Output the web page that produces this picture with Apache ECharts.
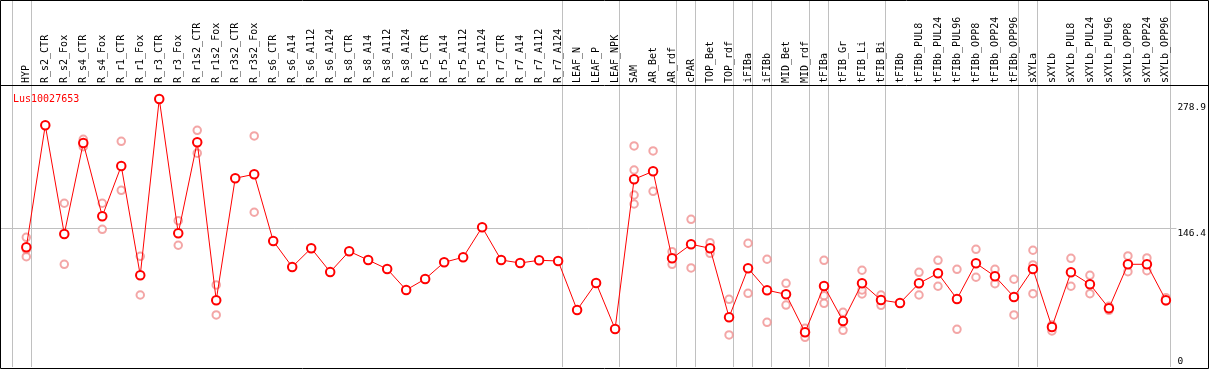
<!DOCTYPE html>
<html><head><meta charset="utf-8">
<script src="https://cdn.jsdelivr.net/npm/echarts@6/dist/echarts.min.js"></script>
<style>html,body{margin:0;padding:0;background:#fff}#c{width:1209px;height:370px}</style>
</head><body><div id="c"></div>
<script>
const seriesName = 'Lus10027653';
const categories = ['HYP','R_s2_CTR','R_s2_Fox','R_s4_CTR','R_s4_Fox','R_r1_CTR','R_r1_Fox','R_r3_CTR','R_r3_Fox','R_r1s2_CTR','R_r1s2_Fox','R_r3s2_CTR','R_r3s2_Fox','R_s6_CTR','R_s6_A14','R_s6_A112','R_s6_A124','R_s8_CTR','R_s8_A14','R_s8_A112','R_s8_A124','R_r5_CTR','R_r5_A14','R_r5_A112','R_r5_A124','R_r7_CTR','R_r7_A14','R_r7_A112','R_r7_A124','LEAF_N','LEAF_P','LEAF_NPK','SAM','AR_Bet','AR_rdf','cPAR','TOP_Bet','TOP_rdf','iFIBa','iFIBb','MID_Bet','MID_rdf','tFIBa','tFIB_Gr','tFIB_Li','tFIB_Bi','tFIBb','tFIBb_PUL8','tFIBb_PUL24','tFIBb_PUL96','tFIBb_OPP8','tFIBb_OPP24','tFIBb_OPP96','sXYLa','sXYLb','sXYLb_PUL8','sXYLb_PUL24','sXYLb_PUL96','sXYLb_OPP8','sXYLb_OPP24','sXYLb_OPP96'];
const means = [126.3,255.1,140.4,236.4,159.1,212.2,96.8,282.9,141.1,237.2,70.4,199.2,203.4,133.0,105.6,125.3,100.3,122.1,112.9,103.4,81.3,92.9,110.5,115.8,147.5,112.9,109.8,112.6,111.9,60.2,88.7,40.1,198.1,206.5,114.7,129.5,125.3,52.5,104.2,81.0,76.7,36.6,85.5,48.6,88.3,70.7,67.6,88.3,98.9,71.8,109.5,95.7,73.9,103.4,42.2,99.9,87.3,62.0,108.4,108.4,70.4];
const rep1 = [136.9,null,172.8,240.3,172.8,238.2,116.8,null,154.4,249.8,86.6,null,243.8,null,null,null,null,null,null,null,null,null,null,null,null,null,null,null,null,null,null,null,233.3,228.0,121.7,155.9,131.2,71.4,130.6,113.7,88.3,40.8,112.6,57.7,102.1,76.0,null,99.9,112.6,103.1,124.2,103.1,92.6,123.2,44.3,114.7,96.8,64.1,117.2,115.1,73.1];
const rep2 = [116.4,null,108.4,232.5,145.3,186.5,76.0,null,128.5,225.6,54.9,null,163.3,null,null,null,null,null,null,null,null,null,null,null,null,null,null,null,null,null,null,null,207.9,185.4,108.4,104.5,120.0,33.8,77.8,47.2,65.4,31.3,75.3,38.7,77.1,65.1,null,76.0,85.2,39.8,94.7,87.9,54.9,107.7,38.0,85.2,77.4,59.8,100.6,101.6,69.7];
const rep3 = [124.0,null,null,null,null,null,null,null,null,null,null,null,null,null,null,null,null,null,null,null,null,null,null,null,null,null,null,null,null,null,null,null,181.5,null,null,null,null,null,null,null,null,null,67.2,null,81.3,null,null,null,null,null,null,null,null,77.4,null,null,null,null,null,null,null];
const rep4 = [null,null,null,null,null,null,null,null,null,null,null,null,null,null,null,null,null,null,null,null,null,null,null,null,null,null,null,null,null,null,null,null,172.0,null,null,null,null,null,null,null,null,null,null,null,null,null,null,null,null,null,null,null,null,null,null,null,null,null,null,null,null];
const separatorsAfter = [-1,0,28,31,34,35,37,38,39,41,42,45,52,53,60];
const yTickTop = [146.4, 278.9];
const yTickBottom = [0];
const yMax = 297.6;

const repPoints = [];
[rep1, rep2, rep3, rep4].forEach(arr => arr.forEach((v, i) => { if (v != null) repPoints.push([i, v]); }));

const chart = echarts.init(document.getElementById('c'), null, {renderer: 'canvas'});
const mono = 'DejaVu Sans Mono';
const yCommon = {
  type: 'value', position: 'right', min: 0, max: yMax,
  axisLine: {show: false}, axisTick: {show: false}, splitLine: {show: false}
};
chart.setOption({
  animation: false,
  title: {text: seriesName, left: 8, top: 89, textStyle: {color: '#ff0000', fontSize: 10, fontWeight: 'normal', fontFamily: mono}},
  grid: {left: 16.8, right: 33.2, top: 85, bottom: 3},
  xAxis: {
    type: 'category', data: categories, position: 'top', boundaryGap: true,
    axisLine: {show: false}, axisTick: {show: false}, splitLine: {show: false},
    axisLabel: {rotate: 90, interval: 0, margin: 2, color: '#000', fontSize: 10, fontFamily: mono}
  },
  yAxis: [
    Object.assign({}, yCommon, {axisLabel: {customValues: yTickTop, verticalAlign: 'top', align: 'left', margin: 2, color: '#000', fontSize: 9.5, fontFamily: mono}}),
    Object.assign({}, yCommon, {axisLabel: {customValues: yTickBottom, verticalAlign: 'bottom', align: 'left', margin: 2, color: '#000', fontSize: 9.5, fontFamily: mono}})
  ],
  graphic: [
    {type: 'rect', silent: true, z: 100, shape: {x: 0.5, y: 0.5, width: 1208, height: 368}, style: {fill: 'none', stroke: '#000', lineWidth: 1}},
    {type: 'line', silent: true, z: 100, shape: {x1: 0, y1: 85.5, x2: 1209, y2: 85.5}, style: {stroke: '#000', lineWidth: 1}}
  ],
  series: [
    {
      type: 'custom', silent: true, clip: false, z: 0,
      data: separatorsAfter.map(i => [i, 0]),
      renderItem: function (params, api) {
        const bw = api.size([1, 0])[0];
        const x0 = api.coord([0, 0])[0];
        const x = Math.round(x0 + (api.value(0) + 0.23) * bw) + 0.5;
        const cs = params.coordSys;
        return {type: 'line', shape: {x1: x, y1: 0, x2: x, y2: cs.y + cs.height}, style: {stroke: '#c0c0c0', lineWidth: 1}};
      }
    },
    {
      type: 'custom', silent: true, clip: false, z: 0,
      data: [[0, 146.4]],
      renderItem: function (params, api) {
        const y = Math.round(api.coord([0, api.value(1)])[1]) + 0.5;
        const cs = params.coordSys;
        return {type: 'line', shape: {x1: 0, y1: y, x2: cs.x + cs.width + 1, y2: y}, style: {stroke: '#c0c0c0', lineWidth: 1}};
      }
    },
    {
      type: 'scatter', data: repPoints, symbol: 'emptyCircle', symbolSize: 7.5, z: 2,
      itemStyle: {color: '#f09090', borderColor: '#f09090', borderWidth: 1.2}
    },
    {
      type: 'line', name: seriesName, data: means, symbol: 'emptyCircle', symbolSize: 8.5, z: 3,
      lineStyle: {color: '#ff0000', width: 1},
      itemStyle: {color: '#ff0000', borderColor: '#ff0000', borderWidth: 1.4}
    }
  ]
});
</script></body></html>
